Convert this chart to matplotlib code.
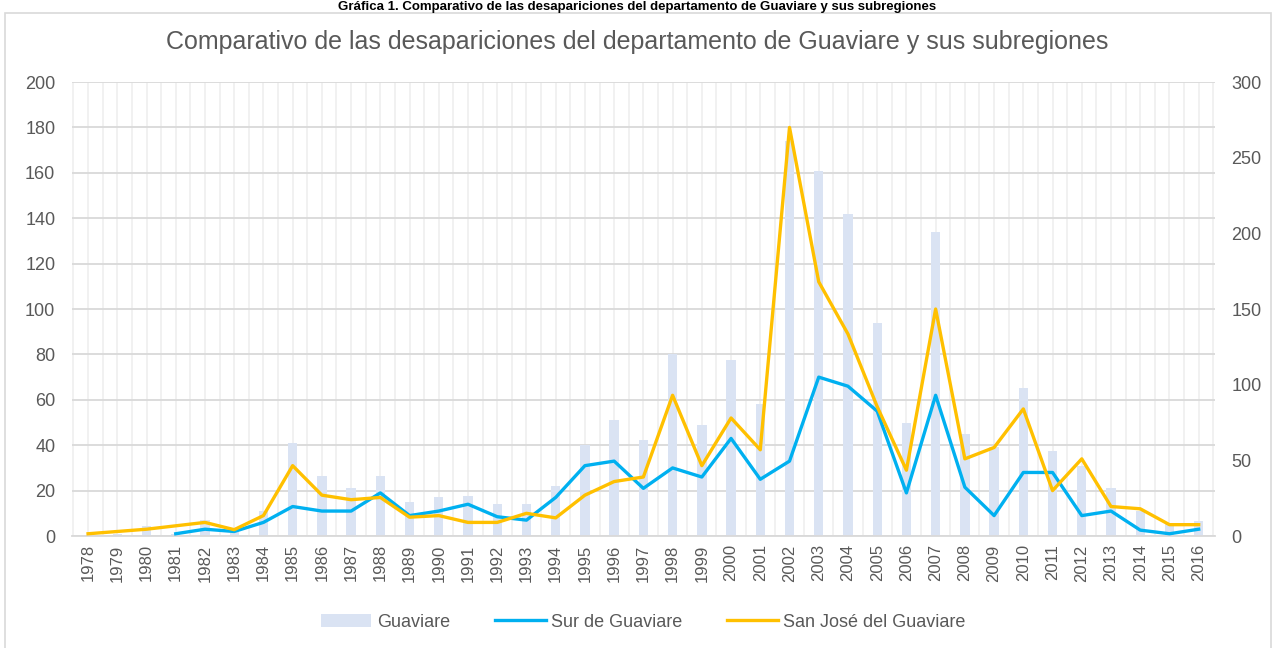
import matplotlib.pyplot as plt
import numpy as np

# Desapariciones por año (eje izquierdo)
years = [str(y) for y in range(1978, 2017)]
guaviare = [0, 1, 4.5, 1, 7, 3, 11, 41, 26.5, 21, 26.5, 15, 17, 17.5, 14, 14, 22, 40, 51, 42.5,
            80, 49, 77.5, 58, 174, 161, 142, 94, 50, 134, 45, 39, 65, 37.5, 31, 21, 11, 5.5, 6.5]
sur = [None, None, None, 1, 3, 2, 6, 13, 11, 11, 19, 9, 11, 14, 8.5, 7, 17, 31, 33, 21,
       30, 26, 43, 25, 33, 70, 66, 55, 19, 62, 21.5, 9, 28, 28, 9, 11, 2.6, 1, 3]
sanjose = [1, 2, 3, 4.5, 6, 2.8, 9, 31, 18, 16, 17, 8.3, 9, 6, 6, 10, 8, 18, 24, 26,
           62, 31, 52, 38, 180, 112, 89, 57, 29, 100, 34, 39, 56, 20, 34, 13, 12, 5, 5]

gris = '#595959'
plt.rcParams['font.family'] = ['Liberation Sans', 'DejaVu Sans']

fig = plt.figure(figsize=(12.74, 6.48), dpi=100)
ax = fig.add_axes([0.0565, 0.1728, 0.897, 0.7006])
x = np.arange(len(years))

# rejilla vertical clara cada media categoría
for v in np.arange(-0.5, len(years), 0.5):
    ax.axvline(v, color='#EFEFEF', lw=1.2, zorder=0)
ax.set_yticks(range(0, 201, 20))
ax.yaxis.grid(True, color='#D9D9D9', lw=1.3, zorder=0)
ax.set_axisbelow(True)

b = ax.bar(x, guaviare, width=0.32, color='#DAE3F3', label='Guaviare', zorder=2)
sur_y = np.array([np.nan if v is None else v for v in sur], dtype=float)
l1, = ax.plot(x, sur_y, color='#00B0F0', lw=2.4, label='Sur de Guaviare', zorder=3)
l2, = ax.plot(x, sanjose, color='#FFC000', lw=2.4, label='San José del Guaviare', zorder=4)

ax.set_xlim(-0.55, len(years) - 0.45)
ax.set_ylim(0, 200)
ax.set_xticks(x)
ax.set_xticklabels(years, rotation=90, fontsize=12, color=gris)
ax.tick_params(axis='y', labelsize=13, colors=gris, length=0, pad=12)
ax.tick_params(axis='x', length=0, pad=6)
for s in ['top', 'right', 'left']:
    ax.spines[s].set_visible(False)
ax.spines['bottom'].set_color('#D9D9D9')
ax.spines['bottom'].set_linewidth(1.3)

ax2 = ax.twinx()
ax2.set_ylim(0, 300)
ax2.set_yticks(range(0, 301, 50))
ax2.tick_params(axis='y', labelsize=13, colors=gris, length=0, pad=12)
for s in ['top', 'right', 'left', 'bottom']:
    ax2.spines[s].set_visible(False)

fig.text(0.5, 0.935, 'Comparativo de las desapariciones del departamento de Guaviare y sus subregiones',
         ha='center', va='center', fontsize=18, color=gris)
fig.text(0.5, 0.999, 'Gráfica 1. Comparativo de las desapariciones del departamento de Guaviare y sus subregiones',
         ha='center', va='top', fontsize=9.5, fontweight='bold', color='black')

# marco del gráfico
fig.patches.append(plt.Rectangle((0.004, -0.01), 0.994, 0.99, transform=fig.transFigure,
                                 fill=False, edgecolor='#D9D9D9', lw=1.2))

ax.legend(handles=[b, l1, l2], loc='center', bbox_to_anchor=(0.5, -0.19), ncol=3, frameon=False,
          fontsize=13, labelcolor=gris, handlelength=2.8, columnspacing=2.5, handletextpad=0.3)

fig.savefig('out.png', dpi=100)
